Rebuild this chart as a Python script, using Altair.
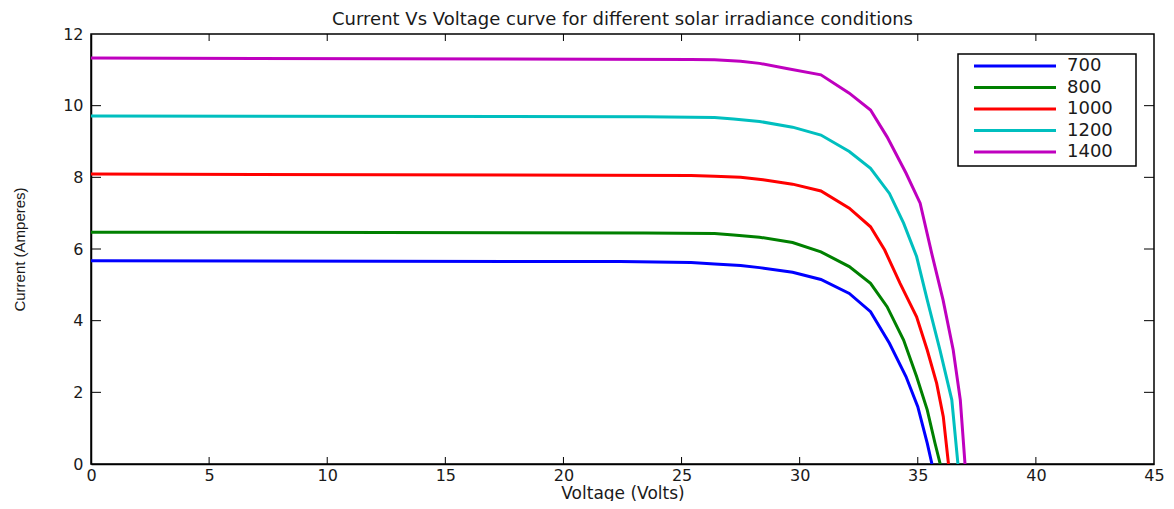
import altair as alt
import pandas as pd

series = ["700", "800", "1000", "1200", "1400"]
colors = ["#0000FF", "#008000", "#FF0000", "#00BFBF", "#BF00BF"]

v700 = [0, 22.4, 25.4, 26.4, 27.5, 28.3, 29.7, 30.9, 32.1, 33.0, 33.8, 34.5, 35.0, 35.4, 35.6]
i700 = [5.67, 5.65, 5.62, 5.58, 5.54, 5.48, 5.35, 5.15, 4.76, 4.25, 3.37, 2.44, 1.60, 0.58, 0.0]

v800 = [0, 23.45, 26.4, 27.2, 28.3, 29.7, 30.9, 32.1, 33.0, 33.7, 34.4, 34.95, 35.4, 35.73, 35.95]
i800 = [6.47, 6.45, 6.43, 6.39, 6.33, 6.18, 5.92, 5.51, 5.04, 4.39, 3.46, 2.44, 1.51, 0.58, 0.0]

v1000 = [0, 25.4, 26.4, 27.5, 28.45, 29.7, 30.9, 32.1, 33.0, 33.6, 34.25, 34.95, 35.4, 35.8, 36.08, 36.3]
i1000 = [8.09, 8.05, 8.03, 8.00, 7.93, 7.81, 7.62, 7.14, 6.62, 5.97, 5.04, 4.11, 3.18, 2.25, 1.32, 0.0]

v1200 = [0, 23.5, 26.4, 27.2, 28.3, 29.7, 30.9, 32.1, 33.0, 33.8, 34.4, 34.95, 35.4, 35.94, 36.44, 36.7]
i1200 = [9.71, 9.69, 9.67, 9.63, 9.56, 9.40, 9.18, 8.72, 8.25, 7.55, 6.72, 5.79, 4.58, 3.18, 1.79, 0.0]

v1400 = [0, 25.4, 26.4, 27.5, 28.3, 29.45, 30.9, 32.1, 33.0, 33.7, 34.5, 35.1, 35.6, 36.07, 36.5, 36.8, 37.0]
i1400 = [11.33, 11.29, 11.28, 11.24, 11.18, 11.04, 10.86, 10.35, 9.88, 9.13, 8.12, 7.28, 5.85, 4.58, 3.18, 1.79, 0.0]

x_ticks = [0, 5, 10, 15, 20, 25, 30, 35, 40, 45]
y_ticks = [0, 2, 4, 6, 8, 10, 12]

rows = []
for name, vs, cs in zip(series, [v700, v800, v1000, v1200, v1400],
                        [i700, i800, i1000, i1200, i1400]):
    for v, c in zip(vs, cs):
        rows.append({"series": name, "V": v, "I": c})
df = pd.DataFrame(rows)

W, H = 1063, 430
WIDE = "DejaVu Sans"
NARROW = "Liberation Sans"
TXT = "#1a1a1a"

xscale = alt.Scale(domain=[0, 45], nice=False, zero=False)
yscale = alt.Scale(domain=[0, 12], nice=False, zero=False)
cscale = alt.Scale(domain=series, range=colors)

x_axis = alt.Axis(title="Voltage (Volts)", values=x_ticks, ticks=False,
                  labelPadding=3, labelFont=WIDE, labelFontSize=16, labelFlush=False,
                  titleFont=WIDE, titleFontSize=17,
                  titleBaseline="alphabetic", titleY=34, grid=False)

lines = alt.Chart(df).mark_line(strokeWidth=3, clip=True).encode(
    x=alt.X("V:Q", scale=xscale, axis=x_axis),
    y=alt.Y("I:Q", scale=yscale,
            axis=alt.Axis(title="Current (Amperes)", values=y_ticks, ticks=False,
                          labelPadding=8, labelFont=WIDE, labelFontSize=16,
                          labelFlush=False,
                          titleFont=NARROW, titleFontSize=15, titlePadding=35,
                          grid=False)),
    color=alt.Color("series:N", scale=cscale, legend=None),
    detail="series:N",
)

xt = pd.DataFrame({"V": x_ticks[1:-1]})
yt = pd.DataFrame({"t": y_ticks[1:-1]})

tick_bottom = alt.Chart(xt).mark_rule(color="black", strokeWidth=1).encode(
    x=alt.X("V:Q", scale=xscale, axis=x_axis), y=alt.value(H), y2=alt.value(H - 7))
tick_top = alt.Chart(xt).mark_rule(color="black", strokeWidth=1).encode(
    x=alt.X("V:Q", scale=xscale, axis=x_axis), y=alt.value(0), y2=alt.value(7))
tick_left = alt.Chart(yt).mark_rule(color="black", strokeWidth=1).encode(
    y=alt.Y("t:Q", scale=yscale, axis=None), x=alt.value(0), x2=alt.value(10))
tick_right = alt.Chart(yt).mark_rule(color="black", strokeWidth=1).encode(
    y=alt.Y("t:Q", scale=yscale, axis=None), x=alt.value(W), x2=alt.value(W - 10))

leg_df = pd.DataFrame({"series": series})
leg_y = alt.Y("series:N", sort=series,
              scale=alt.Scale(type="point", domain=series, range=[32, 118], padding=0),
              axis=None)

leg_box = alt.Chart(pd.DataFrame({"a": [1]})).mark_rect(
    fill="white", stroke="black", strokeWidth=1.5).encode(
    x=alt.value(867), x2=alt.value(1045), y=alt.value(20), y2=alt.value(132))
leg_lines = alt.Chart(leg_df).mark_rule(strokeWidth=3).encode(
    x=alt.value(883), x2=alt.value(965), y=leg_y,
    color=alt.Color("series:N", scale=cscale, legend=None))
leg_text = alt.Chart(leg_df).mark_text(
    align="left", baseline="middle", fontSize=18, font=WIDE,
    color=TXT).encode(
    x=alt.value(976), y=leg_y, text="series:N")

chart = alt.layer(
    lines, tick_bottom, tick_top, tick_left, tick_right, leg_box, leg_lines, leg_text
).resolve_scale(y="independent").properties(
    width=W, height=H,
    title=alt.Title("Current Vs Voltage curve for different solar irradiance conditions",
                    fontSize=18, font=WIDE, fontWeight="normal", color=TXT,
                    anchor="middle", offset=-3),
    autosize=alt.AutoSizeParams(type="none"),
    padding={"left": 83, "top": 26, "right": 12, "bottom": 37},
).configure_view(
    stroke="black", strokeWidth=1.5
).configure_axis(
    labelColor=TXT, titleColor=TXT, titleFontWeight="normal",
    domainColor="black", domainWidth=1.5,
)

chart.save("out.html", embed_options={"renderer": "svg", "actions": False})
